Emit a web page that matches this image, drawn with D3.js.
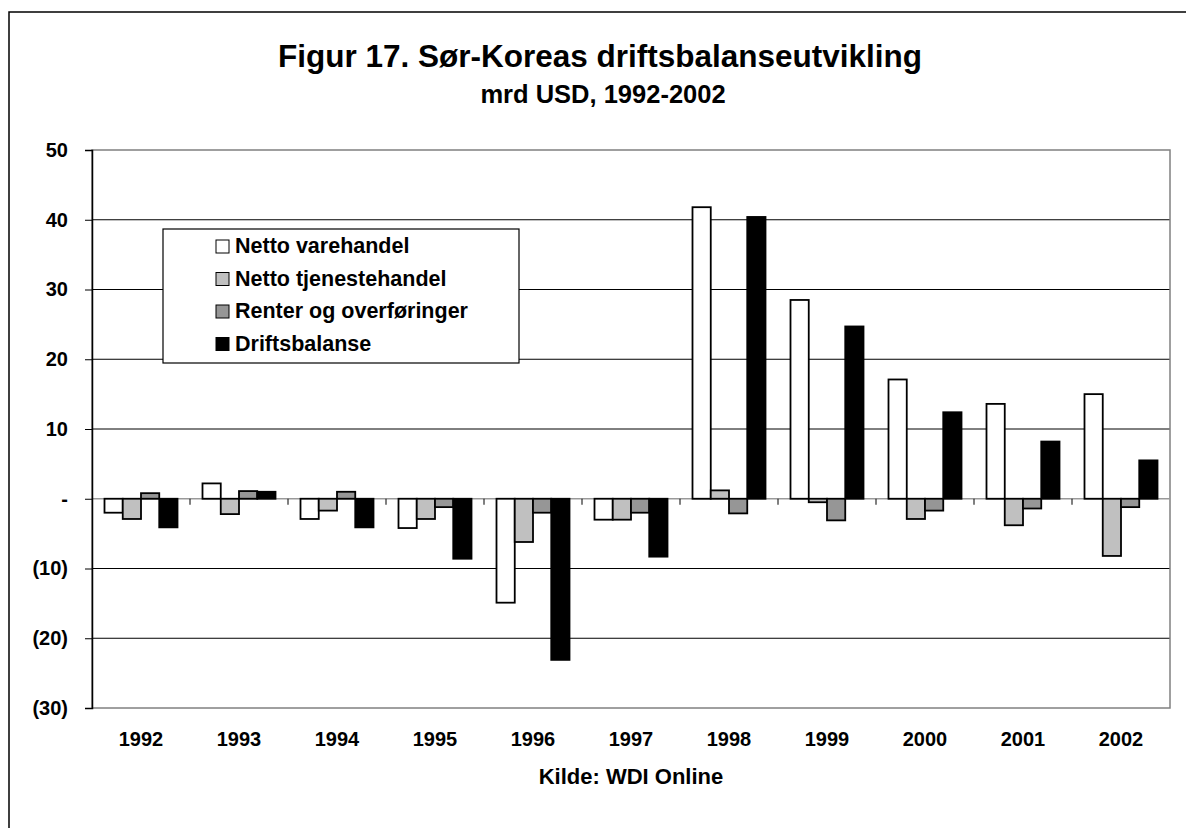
<!DOCTYPE html>
<html>
<head>
<meta charset="utf-8">
<script src="https://cdn.jsdelivr.net/npm/d3@7"></script>
<style>
  body { margin: 0; background: #fff; }
  text { font-family: "Liberation Sans", Arial, sans-serif; font-weight: bold; fill: #000; }
</style>
</head>
<body>
<script>
// years on the x axis
var years = ['1992', '1993', '1994', '1995', '1996', '1997', '1998', '1999', '2000', '2001', '2002'];

// series names (legend) and values, mrd USD
var seriesNames = ['Netto varehandel', 'Netto tjenestehandel', 'Renter og overføringer', 'Driftsbalanse'];
var varehandel    = [-2.0, 2.2, -2.9, -4.2, -14.9, -3.0, 41.8, 28.5, 17.1, 13.6, 15.0];
var tjeneste      = [-2.9, -2.2, -1.7, -2.9, -6.2, -3.0, 1.2, -0.5, -2.9, -3.8, -8.2];
var renter        = [0.8, 1.1, 1.0, -1.2, -2.0, -2.0, -2.1, -3.1, -1.7, -1.4, -1.2];
var driftsbalanse = [-4.1, 1.0, -4.1, -8.6, -23.1, -8.3, 40.4, 24.7, 12.4, 8.2, 5.5];
var seriesColors = ['#ffffff', '#c0c0c0', '#969696', '#000000'];

// y ticks
var yTicks = [50, 40, 30, 20, 10, 0, -10, -20, -30];

var W = 1186, H = 828;
var margin = {top: 150, right: 16, bottom: 120, left: 92};
var plotW = W - margin.left - margin.right,
    plotH = H - margin.top - margin.bottom;

var svg = d3.select("body").append("svg")
    .attr("width", W)
    .attr("height", H);

// outer frame of the chart object
svg.append("rect")
    .attr("x", 9).attr("y", 12)
    .attr("width", W + 20).attr("height", H + 20)
    .attr("fill", "none")
    .attr("stroke", "#000")
    .attr("stroke-width", 1.5);

// titles
svg.append("text")
    .attr("x", 600).attr("y", 67)
    .attr("text-anchor", "middle")
    .style("font-size", "31.5px")
    .text("Figur 17. Sør-Koreas driftsbalanseutvikling");
svg.append("text")
    .attr("x", 603).attr("y", 103)
    .attr("text-anchor", "middle")
    .style("font-size", "25.5px")
    .text("mrd USD, 1992-2002");

var g = svg.append("g")
    .attr("transform", "translate(" + margin.left + "," + margin.top + ")");

// scales
var x0 = d3.scaleBand().domain(years).range([0, plotW]).padding(0);
var x1 = d3.scaleBand().domain(d3.range(4)).range([12.5, x0.bandwidth() - 12.5]);
var y = d3.scaleLinear().domain([-30, 50]).range([plotH, 0]);

// gridlines
g.selectAll(".grid")
    .data(yTicks.filter(function(d) { return d !== 0 && d !== 50 && d !== -30; }))
  .enter().append("line")
    .attr("x1", 0).attr("x2", plotW)
    .attr("y1", function(d) { return y(d); })
    .attr("y2", function(d) { return y(d); })
    .attr("stroke", "#000")
    .attr("stroke-width", 1);

// plot area border (grey)
g.append("rect")
    .attr("x", 0).attr("y", 0)
    .attr("width", plotW).attr("height", plotH)
    .attr("fill", "none")
    .attr("stroke", "#808080")
    .attr("stroke-width", 1.5);

// zero axis line
g.append("line")
    .attr("x1", 0).attr("x2", plotW)
    .attr("y1", y(0)).attr("y2", y(0))
    .attr("stroke", "#999")
    .attr("stroke-width", 1.5);

// category ticks below the zero line
g.selectAll(".xtick")
    .data(years.slice(1))
  .enter().append("line")
    .attr("x1", function(d) { return x0(d); })
    .attr("x2", function(d) { return x0(d); })
    .attr("y1", y(0)).attr("y2", y(0) + 6)
    .attr("stroke", "#000");

// bars
var allSeries = [varehandel, tjeneste, renter, driftsbalanse];
var rows = years.map(function(yr, i) {
  return allSeries.map(function(s, k) { return {year: yr, k: k, v: s[i]}; });
});

g.selectAll(".year")
    .data(rows)
  .enter().append("g")
    .attr("transform", function(d, i) { return "translate(" + x0(years[i]) + ",0)"; })
  .selectAll("rect")
    .data(function(d) { return d; })
  .enter().append("rect")
    .attr("x", function(d) { return x1(d.k); })
    .attr("width", x1.bandwidth())
    .attr("y", function(d) { return y(Math.max(0, d.v)); })
    .attr("height", function(d) { return Math.abs(y(d.v) - y(0)); })
    .attr("fill", function(d) { return seriesColors[d.k]; })
    .attr("stroke", "#000")
    .attr("stroke-width", 1.8);

// y axis
var yAxis = d3.axisLeft(y)
    .tickValues(yTicks)
    .tickSize(7)
    .tickFormat(function(d) {
      if (d === 0) return "-";
      if (d < 0) return "(" + Math.abs(d) + ")";
      return d;
    });
var ya = g.append("g").call(yAxis);
ya.select(".domain").attr("stroke", "#000").attr("stroke-width", 1.5);
ya.selectAll(".tick line").attr("stroke", "#000");
ya.selectAll(".tick text")
    .attr("x", -24)
    .style("font-size", "20px")
    .style("font-family", "'Liberation Sans', Arial, sans-serif")
    .style("font-weight", "bold");

// x labels
g.selectAll(".xlab")
    .data(years)
  .enter().append("text")
    .attr("x", function(d) { return x0(d) + x0.bandwidth() / 2; })
    .attr("y", plotH + 38)
    .attr("text-anchor", "middle")
    .style("font-size", "20px")
    .text(function(d) { return d; });

// source
g.append("text")
    .attr("x", plotW / 2)
    .attr("y", plotH + 76)
    .attr("text-anchor", "middle")
    .style("font-size", "22px")
    .text("Kilde: WDI Online");

// legend
var legend = svg.append("g").attr("transform", "translate(163,229)");
legend.append("rect")
    .attr("width", 356).attr("height", 134)
    .attr("fill", "#fff")
    .attr("stroke", "#000")
    .attr("stroke-width", 1.2);
var item = legend.selectAll(".item")
    .data(seriesNames)
  .enter().append("g")
    .attr("transform", function(d, i) { return "translate(53," + (11 + i * 32.5) + ")"; });
item.append("rect")
    .attr("width", 13).attr("height", 13)
    .attr("fill", function(d, i) { return seriesColors[i]; })
    .attr("stroke", "#000")
    .attr("stroke-width", 1);
item.append("text")
    .attr("x", 19).attr("y", 13)
    .style("font-size", "21.5px")
    .text(function(d) { return d; });
</script>
</body>
</html>
